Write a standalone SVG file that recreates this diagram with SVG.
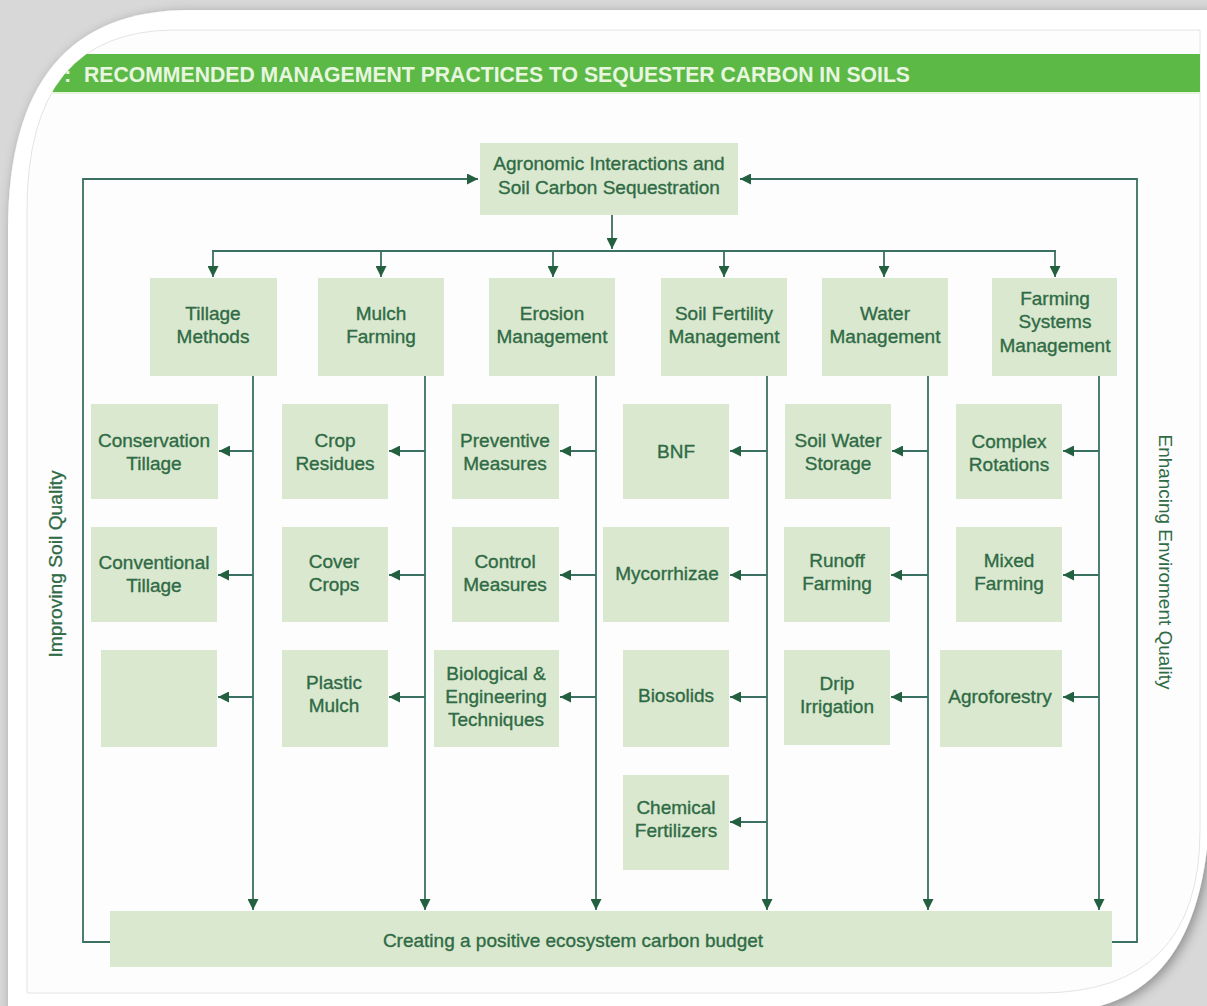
<svg xmlns="http://www.w3.org/2000/svg" width="1207" height="1006" viewBox="0 0 1207 1006">
<style>
.bx{fill:#dae8cf}
.t{font-family:"Liberation Sans",Arial,sans-serif;font-size:19px;fill:#2f6b45;stroke:#2f6b45;stroke-width:0.35;text-anchor:middle}
.ln{fill:none;stroke:#3b7162;stroke-width:1.8}
.side{font-family:"Liberation Sans",Arial,sans-serif;font-size:18px;fill:#2f6b45;text-anchor:middle}
</style>
<defs>
<marker id="ah" viewBox="0 0 10 10" refX="10" refY="5" markerWidth="11" markerHeight="11" markerUnits="userSpaceOnUse" orient="auto">
<path d="M0,0 L10,5 L0,10 Z" fill="#23603f"/>
</marker>
<filter id="sh" x="-5%" y="-5%" width="110%" height="110%">
<feDropShadow dx="3" dy="3" stdDeviation="6" flood-color="#000" flood-opacity="0.35"/>
</filter>
<clipPath id="inner">
<path d="M1200,30 L1200,830 Q1200,993 1040,993 L27,993 L27,210 Q27,30 175,30 Z"/>
</clipPath>
</defs>
<rect width="1207" height="1006" fill="#d8d8d8"/>
<path d="M8,230 Q8,10 190,10 L1210,10 L1210,800 Q1207,1006 1060,1012 L8,1012 Z" fill="#ffffff" filter="url(#sh)"/>
<path d="M1200,30 L1200,830 Q1200,993 1040,993 L27,993 L27,210 Q27,30 175,30 Z" fill="#fdfdfe" stroke="#e4e4e4" stroke-width="1"/>
<g id="header" clip-path="url(#inner)">
<rect x="30" y="54" width="1170" height="38" fill="#5cb946"/>
<rect x="30" y="92" width="1170" height="2" fill="#e6f5dc"/>
<text x="64" y="82" font-family="'Liberation Sans',Arial,sans-serif" font-size="22" font-weight="bold" fill="#e8f6e0">:</text>
<text x="84" y="82" font-family="'Liberation Sans',Arial,sans-serif" font-size="22" font-weight="bold" fill="#e8f6e0" textLength="826" lengthAdjust="spacingAndGlyphs">RECOMMENDED MANAGEMENT PRACTICES TO SEQUESTER CARBON IN SOILS</text>
</g>
<g id="connectors">
<path class="ln" d="M110,942 H83 V179 H478" marker-end="url(#ah)"/>
<path class="ln" d="M1112,942 H1137 V179 H740" marker-end="url(#ah)"/>
<path class="ln" d="M612,215 V249" marker-end="url(#ah)"/>
<path class="ln" d="M212,251 H1056"/>
<path class="ln" d="M213,251 V277" marker-end="url(#ah)"/>
<path class="ln" d="M381,251 V277" marker-end="url(#ah)"/>
<path class="ln" d="M553,251 V277" marker-end="url(#ah)"/>
<path class="ln" d="M724,251 V277" marker-end="url(#ah)"/>
<path class="ln" d="M884,251 V277" marker-end="url(#ah)"/>
<path class="ln" d="M1055,251 V277" marker-end="url(#ah)"/>
<path class="ln" d="M253,376 V910" marker-end="url(#ah)"/>
<path class="ln" d="M425,376 V910" marker-end="url(#ah)"/>
<path class="ln" d="M596,376 V910" marker-end="url(#ah)"/>
<path class="ln" d="M767,376 V910" marker-end="url(#ah)"/>
<path class="ln" d="M928,376 V910" marker-end="url(#ah)"/>
<path class="ln" d="M1099,376 V910" marker-end="url(#ah)"/>
<path class="ln" d="M253,451 H219" marker-end="url(#ah)"/>
<path class="ln" d="M253,575 H218" marker-end="url(#ah)"/>
<path class="ln" d="M253,697 H218" marker-end="url(#ah)"/>
<path class="ln" d="M425,451 H389" marker-end="url(#ah)"/>
<path class="ln" d="M425,575 H389" marker-end="url(#ah)"/>
<path class="ln" d="M425,697 H389" marker-end="url(#ah)"/>
<path class="ln" d="M596,451 H560" marker-end="url(#ah)"/>
<path class="ln" d="M596,575 H560" marker-end="url(#ah)"/>
<path class="ln" d="M596,697 H560" marker-end="url(#ah)"/>
<path class="ln" d="M767,451 H730" marker-end="url(#ah)"/>
<path class="ln" d="M767,575 H730" marker-end="url(#ah)"/>
<path class="ln" d="M767,697 H730" marker-end="url(#ah)"/>
<path class="ln" d="M767,822 H730" marker-end="url(#ah)"/>
<path class="ln" d="M928,451 H892" marker-end="url(#ah)"/>
<path class="ln" d="M928,575 H891" marker-end="url(#ah)"/>
<path class="ln" d="M928,697 H891" marker-end="url(#ah)"/>
<path class="ln" d="M1099,451 H1063" marker-end="url(#ah)"/>
<path class="ln" d="M1099,575 H1063" marker-end="url(#ah)"/>
<path class="ln" d="M1099,697 H1063" marker-end="url(#ah)"/>
</g>
<g id="n-top"><rect class="bx" x="480" y="143" width="258" height="72"/><text class="t" x="609" y="170">Agronomic Interactions and</text><text class="t" x="609" y="194">Soil Carbon Sequestration</text></g>
<g id="n-tillage"><rect class="bx" x="150" y="278" width="127" height="98"/><text class="t" x="213" y="320">Tillage</text><text class="t" x="213" y="343">Methods</text></g>
<g id="n-mulch"><rect class="bx" x="318" y="278" width="126" height="98"/><text class="t" x="381" y="320">Mulch</text><text class="t" x="381" y="343">Farming</text></g>
<g id="n-erosion"><rect class="bx" x="489" y="278" width="126" height="98"/><text class="t" x="552" y="320">Erosion</text><text class="t" x="552" y="343">Management</text></g>
<g id="n-fertility"><rect class="bx" x="661" y="278" width="126" height="98"/><text class="t" x="724" y="320">Soil Fertility</text><text class="t" x="724" y="343">Management</text></g>
<g id="n-water"><rect class="bx" x="822" y="278" width="126" height="98"/><text class="t" x="885" y="320">Water</text><text class="t" x="885" y="343">Management</text></g>
<g id="n-farming"><rect class="bx" x="992" y="278" width="125" height="98"/><text class="t" x="1055" y="305">Farming</text><text class="t" x="1055" y="328">Systems</text><text class="t" x="1055" y="352">Management</text></g>
<g id="n-conservation"><rect class="bx" x="91" y="404" width="127" height="95"/><text class="t" x="154" y="447">Conservation</text><text class="t" x="154" y="470">Tillage</text></g>
<g id="n-conventional"><rect class="bx" x="91" y="527" width="126" height="95"/><text class="t" x="154" y="569">Conventional</text><text class="t" x="154" y="592">Tillage</text></g>
<g id="n-empty"><rect class="bx" x="101" y="650" width="116" height="97"/></g>
<g id="n-crop"><rect class="bx" x="282" y="404" width="106" height="95"/><text class="t" x="335" y="447">Crop</text><text class="t" x="335" y="470">Residues</text></g>
<g id="n-cover"><rect class="bx" x="282" y="527" width="106" height="95"/><text class="t" x="334" y="568">Cover</text><text class="t" x="334" y="591">Crops</text></g>
<g id="n-plastic"><rect class="bx" x="282" y="650" width="106" height="97"/><text class="t" x="334" y="689">Plastic</text><text class="t" x="334" y="712">Mulch</text></g>
<g id="n-preventive"><rect class="bx" x="452" y="404" width="107" height="95"/><text class="t" x="505" y="447">Preventive</text><text class="t" x="505" y="470">Measures</text></g>
<g id="n-control"><rect class="bx" x="452" y="527" width="107" height="95"/><text class="t" x="505" y="568">Control</text><text class="t" x="505" y="591">Measures</text></g>
<g id="n-biological"><rect class="bx" x="434" y="650" width="125" height="97"/><text class="t" x="496" y="680">Biological &amp;</text><text class="t" x="496" y="703">Engineering</text><text class="t" x="496" y="726">Techniques</text></g>
<g id="n-bnf"><rect class="bx" x="623" y="404" width="106" height="95"/><text class="t" x="676" y="458">BNF</text></g>
<g id="n-mycorrhizae"><rect class="bx" x="603" y="527" width="126" height="95"/><text class="t" x="667" y="580">Mycorrhizae</text></g>
<g id="n-biosolids"><rect class="bx" x="623" y="650" width="106" height="97"/><text class="t" x="676" y="702">Biosolids</text></g>
<g id="n-chemical"><rect class="bx" x="623" y="775" width="106" height="95"/><text class="t" x="676" y="814">Chemical</text><text class="t" x="676" y="837">Fertilizers</text></g>
<g id="n-soilwater"><rect class="bx" x="785" y="404" width="106" height="95"/><text class="t" x="838" y="447">Soil Water</text><text class="t" x="838" y="470">Storage</text></g>
<g id="n-runoff"><rect class="bx" x="784" y="527" width="106" height="95"/><text class="t" x="837" y="567">Runoff</text><text class="t" x="837" y="590">Farming</text></g>
<g id="n-drip"><rect class="bx" x="784" y="650" width="106" height="95"/><text class="t" x="837" y="690">Drip</text><text class="t" x="837" y="713">Irrigation</text></g>
<g id="n-complex"><rect class="bx" x="956" y="404" width="106" height="95"/><text class="t" x="1009" y="448">Complex</text><text class="t" x="1009" y="471">Rotations</text></g>
<g id="n-mixed"><rect class="bx" x="956" y="527" width="106" height="95"/><text class="t" x="1009" y="567">Mixed</text><text class="t" x="1009" y="590">Farming</text></g>
<g id="n-agroforestry"><rect class="bx" x="940" y="650" width="122" height="97"/><text class="t" x="1000" y="703">Agroforestry</text></g>
<g id="n-bottom"><rect class="bx" x="110" y="911" width="1002" height="56"/><text class="t" x="573" y="947">Creating a positive ecosystem carbon budget</text></g>
<g id="labels">
<text class="side" transform="translate(62,564) rotate(-90)" textLength="187" lengthAdjust="spacingAndGlyphs" stroke="#2f6b45" stroke-width="0.3">Improving Soil Quality</text>
<text class="side" transform="translate(1159,562) rotate(90)" textLength="255" lengthAdjust="spacingAndGlyphs">Enhancing Enviroment Quality</text>
</g>
</svg>
